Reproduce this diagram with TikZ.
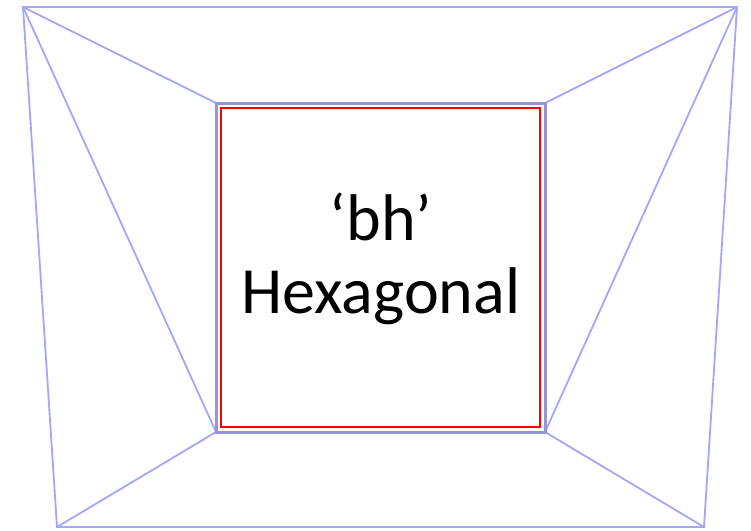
\documentclass[tikz,border=0pt]{standalone}
\usepackage{fontspec}
\setmainfont{Carlito}
\definecolor{meshblue}{RGB}{165,165,250}
\definecolor{frameblue}{RGB}{150,150,215}
\tikzset{
  meshline/.style={draw=meshblue, line width=1.8pt},
  frameline/.style={draw=frameblue, line width=3pt},
  redline/.style={draw=red, line width=1.8pt},
}
\begin{document}
\begin{tikzpicture}[x=1pt,y=-1pt]
  \useasboundingbox (0,0) rectangle (751,530);
  \coordinate (OA) at (23,7);
  \coordinate (OB) at (737,7);
  \coordinate (OC) at (704,527);
  \coordinate (OD) at (57,527);
  \coordinate (IA) at (216,103);
  \coordinate (IB) at (545,103);
  \coordinate (IC) at (545,432);
  \coordinate (ID) at (216,432);
  \draw[meshline] (OA) -- (OB) -- (OC) -- (OD) -- cycle;
  \draw[meshline] (OA) -- (IA);
  \draw[meshline] (OA) -- (ID);
  \draw[meshline] (OB) -- (IB);
  \draw[meshline] (OB) -- (IC);
  \draw[meshline] (OD) -- (ID);
  \draw[meshline] (OC) -- (IC);
  \draw[frameline] (IA) rectangle (IC);
  \draw[redline] (221,108) rectangle (540,427);
  \node[align=center, font=\fontsize{66}{73}\selectfont] (label) at (381,259) {‘bh’\\Hexagonal};
\end{tikzpicture}
\end{document}
